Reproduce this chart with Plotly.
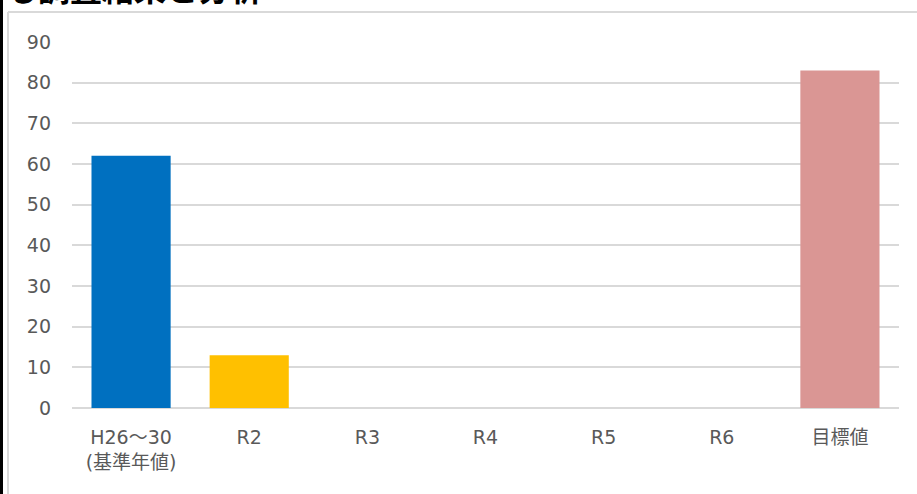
import plotly.graph_objects as go

categories = ["H26～30<br>(基準年値)", "R2", "R3", "R4", "R5", "R6", "目標値"]
values = [62, 13, None, None, None, None, 83]
colors = ["#0070C0", "#FFC000", "#0070C0", "#0070C0", "#0070C0", "#0070C0", "#DA9694"]
y_ticks = [0, 10, 20, 30, 40, 50, 60, 70, 80, 90]
title_text = "る調査結果と分析"

W, H = 917, 494
L, R, T, B = 72, 18, 42, 86
pw = W - L - R
ph = H - T - B

def px_x(px):
    return (px - L) / pw

def px_y(py):
    return (H - B - py) / ph

FONT = "DejaVu Sans, Noto Sans CJK JP, sans-serif"

fig = go.Figure(go.Bar(
    x=categories, y=values, marker_color=colors, marker_line_width=0,
    hoverinfo="skip",
))

fig.update_layout(
    width=W, height=H,
    margin=dict(l=L, r=R, t=T, b=B, autoexpand=False),
    paper_bgcolor="white", plot_bgcolor="white",
    bargap=0.33,
    showlegend=False,
    font=dict(family=FONT, color="#595959", size=19),
    xaxis=dict(showgrid=False, zeroline=False, showline=False, ticks="",
               ticklabelstandoff=16,
               tickfont=dict(size=19, color="#595959", family=FONT)),
    yaxis=dict(range=[0, 90], tickvals=y_ticks, showgrid=True, gridcolor="#D9D9D9",
               gridwidth=1.5, zeroline=True, zerolinecolor="#D9D9D9", zerolinewidth=1.5,
               showline=False, ticks="", ticklabelstandoff=20,
               tickfont=dict(size=19, color="#595959", family=FONT)),
    shapes=[
        dict(type="line", xref="paper", yref="paper", x0=px_x(8), x1=px_x(917), y0=px_y(12), y1=px_y(12),
             line=dict(color="#D9D9D9", width=2)),
        dict(type="line", xref="paper", yref="paper", x0=px_x(8), x1=px_x(8), y0=px_y(12), y1=px_y(494),
             line=dict(color="#D9D9D9", width=2)),
        dict(type="line", xref="paper", yref="paper", x0=px_x(1.5), x1=px_x(1.5), y0=px_y(0), y1=px_y(494),
             line=dict(color="black", width=3)),
    ],
    annotations=[
        dict(text="<b>" + title_text + "</b>", xref="paper", yref="paper", x=px_x(4), y=px_y(12),
             xanchor="left", yanchor="bottom", showarrow=False,
             font=dict(size=32, color="black", family="Noto Sans CJK JP"))
    ],
)

fig.write_html("out.html", config={"displayModeBar": False},
               post_script="document.body.style.margin='0';document.body.style.overflow='hidden';")
